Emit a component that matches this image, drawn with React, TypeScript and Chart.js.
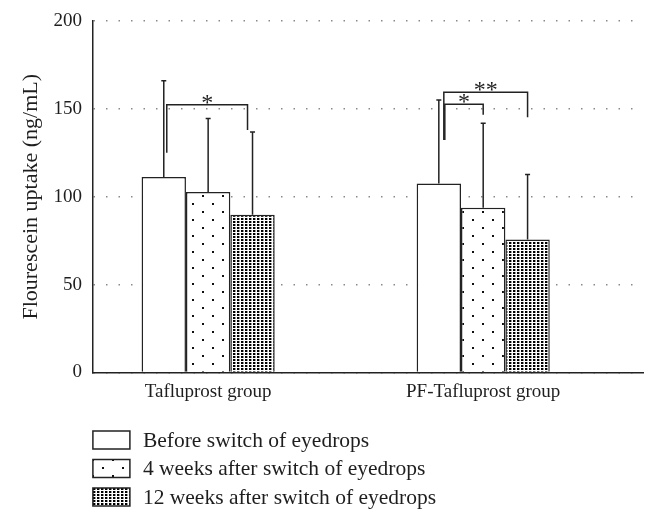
import React, { useEffect, useRef } from 'react';
import { Chart, registerables } from 'chart.js';

Chart.register(...registerables);

// ---- data ----
const groups = ['Tafluprost group', 'PF-Tafluprost group'];
const seriesNames = [
  'Before switch of eyedrops',
  '4 weeks after switch of eyedrops',
  '12 weeks after switch of eyedrops',
];
const beforeMean = [111.3, 107.5];
const week4Mean = [102.7, 93.8];
const week12Mean = [89.8, 75.7];
const beforeSD = [54.7, 47.6];
const week4SD = [41.8, 48.0];
const week12SD = [47.1, 37.0];
const yTicks = [0, 50, 100, 150, 200];

// significance brackets
const sigGroup = [0, 1, 1];
const sigFrom = [0, 0, 0];
const sigTo = [2, 1, 2];
const sigTop = [152.3, 152.7, 159.5];
const sigLeftEnd = [125, 132.3, 132.3];
const sigRightEnd = [138, 146.6, 145.3];
const sigLabel = ['*', '*', '**'];

// ---- styles ----
const FONT = '"Liberation Serif", "Times New Roman", serif';
const TEXT = '#1e1e1e';
const LINE = '#222';
const sigLeftShift = [3, 6, 5];
const sigRightShift = [-5, 0, 0];

function makePattern(kind: string): CanvasPattern | string {
  const c = document.createElement('canvas');
  const ctx = c.getContext('2d');
  if (!ctx) return '#fff';
  if (kind === 'sparse') {
    c.width = 20;
    c.height = 16;
    ctx.fillStyle = '#fff';
    ctx.fillRect(0, 0, 20, 16);
    ctx.fillStyle = '#111';
    ctx.fillRect(4, 3, 2, 2);
    ctx.fillRect(14, 11, 2, 2);
  } else {
    c.width = 4;
    c.height = 3;
    ctx.fillStyle = '#fff';
    ctx.fillRect(0, 0, 4, 3);
    ctx.fillStyle = '#000';
    ctx.fillRect(1, 0, 2, 2);
    ctx.fillStyle = '#9a9a9a';
    ctx.fillRect(3, 0, 1, 2);
  }
  return ctx.createPattern(c, 'repeat') || '#fff';
}

const sds = [beforeSD, week4SD, week12SD];

const errorBarPlugin = {
  id: 'errorBars',
  afterDatasetsDraw(chart: any) {
    const ctx = chart.ctx;
    const y = chart.scales.y;
    chart.data.datasets.forEach((ds: any, di: number) => {
      const meta = chart.getDatasetMeta(di);
      meta.data.forEach((bar: any, i: number) => {
        const mean = ds.data[i].y;
        const top = y.getPixelForValue(mean + sds[di][i]);
        ctx.save();
        ctx.strokeStyle = LINE;
        ctx.lineWidth = 1.5;
        ctx.beginPath();
        ctx.moveTo(bar.x, bar.y);
        ctx.lineTo(bar.x, top);
        ctx.moveTo(bar.x - 2.5, top);
        ctx.lineTo(bar.x + 2.5, top);
        ctx.stroke();
        ctx.restore();
      });
    });
  },
};

const sigPlugin = {
  id: 'sigBrackets',
  afterDatasetsDraw(chart: any) {
    const ctx = chart.ctx;
    const y = chart.scales.y;
    ctx.save();
    ctx.strokeStyle = LINE;
    ctx.lineWidth = 1.5;
    ctx.fillStyle = TEXT;
    ctx.font = `24px ${FONT}`;
    ctx.textAlign = 'center';
    ctx.textBaseline = 'alphabetic';
    sigGroup.forEach((g, k) => {
      const xa = chart.getDatasetMeta(sigFrom[k]).data[g].x + sigLeftShift[k];
      const xb = chart.getDatasetMeta(sigTo[k]).data[g].x + sigRightShift[k];
      const yt = y.getPixelForValue(sigTop[k]);
      const yl = y.getPixelForValue(sigLeftEnd[k]);
      const yr = y.getPixelForValue(sigRightEnd[k]);
      ctx.beginPath();
      ctx.moveTo(xa, yl);
      ctx.lineTo(xa, yt);
      ctx.lineTo(xb, yt);
      ctx.lineTo(xb, yr);
      ctx.stroke();
      ctx.fillText(sigLabel[k], (xa + xb) / 2, yt + 5);
    });
    ctx.restore();
  },
};

const legendPlugin = {
  id: 'customLegend',
  afterDraw(chart: any) {
    const ctx = chart.ctx;
    const left = chart.chartArea.left;
    const top0 = chart.scales.x.bottom + 19.7;
    ctx.save();
    chart.data.datasets.forEach((ds: any, i: number) => {
      const ty = top0 + i * 28.5;
      ctx.fillStyle = ds.backgroundColor;
      ctx.fillRect(left, ty, 37, 18);
      ctx.strokeStyle = LINE;
      ctx.lineWidth = 1.5;
      ctx.strokeRect(left, ty, 37, 18);
      ctx.fillStyle = TEXT;
      ctx.font = `21.5px ${FONT}`;
      ctx.textAlign = 'left';
      ctx.textBaseline = 'middle';
      ctx.fillText(ds.label, left + 50, ty + 10);
    });
    ctx.restore();
  },
};

export default function App() {
  const ref = useRef<HTMLCanvasElement>(null);

  useEffect(() => {
    if (!ref.current) return;
    const fills = [
      '#ffffff',
      makePattern('sparse'),
      makePattern('dense'),
    ];
    const means = [beforeMean, week4Mean, week12Mean];
    const chart = new Chart(ref.current, {
      type: 'bar',
      data: {
        datasets: means.map((arr, di) => ({
          label: seriesNames[di],
          data: arr.map((v, i) => ({ x: i, y: v })),
          backgroundColor: fills[di] as any,
          borderColor: LINE,
          borderWidth: 1.5,
          borderSkipped: 'bottom',
          categoryPercentage: 0.484,
          barPercentage: 1,
        })),
      },
      options: {
        responsive: false,
        animation: false,
        layout: { padding: { left: 4, right: 6, top: 13, bottom: 105.7 } },
        plugins: {
          legend: { display: false },
          tooltip: { enabled: false },
        },
        scales: {
          x: {
            type: 'linear',
            min: -0.419,
            max: 1.581,
            offset: false,
            bounds: 'data',
            afterBuildTicks: (s: any) => {
              s.ticks = groups.map((_, i) => ({ value: i }));
            },
            ticks: {
              callback: (v: any) => groups[v] ?? '',
              font: { family: FONT, size: 19 },
              color: TEXT,
              padding: 8,
              maxRotation: 0,
              autoSkip: false,
            },
            grid: { display: false, drawTicks: false },
            border: { display: true, color: LINE, width: 1.5 },
          },
          y: {
            type: 'linear',
            min: 0,
            max: 200,
            afterBuildTicks: (s: any) => {
              s.ticks = yTicks.map((v) => ({ value: v }));
            },
            afterFit: (s: any) => {
              s.paddingTop = 0;
            },
            ticks: {
              font: { family: FONT, size: 19 },
              color: TEXT,
              padding: 11,
            },
            grid: { color: '#8a8a8a', lineWidth: 1.5, drawTicks: false },
            border: { display: true, color: LINE, width: 1.5, dash: [1.5, 11] },
            title: {
              display: true,
              text: 'Flourescein uptake (ng/mL)',
              font: { family: FONT, size: 22 },
              color: TEXT,
              padding: { top: 6, bottom: -2 },
            },
          },
        },
      },
      plugins: [errorBarPlugin, sigPlugin, legendPlugin],
    } as any);
    return () => chart.destroy();
  }, []);

  return <canvas ref={ref} width={641} height={509} style={{ display: 'block' }} />;
}
